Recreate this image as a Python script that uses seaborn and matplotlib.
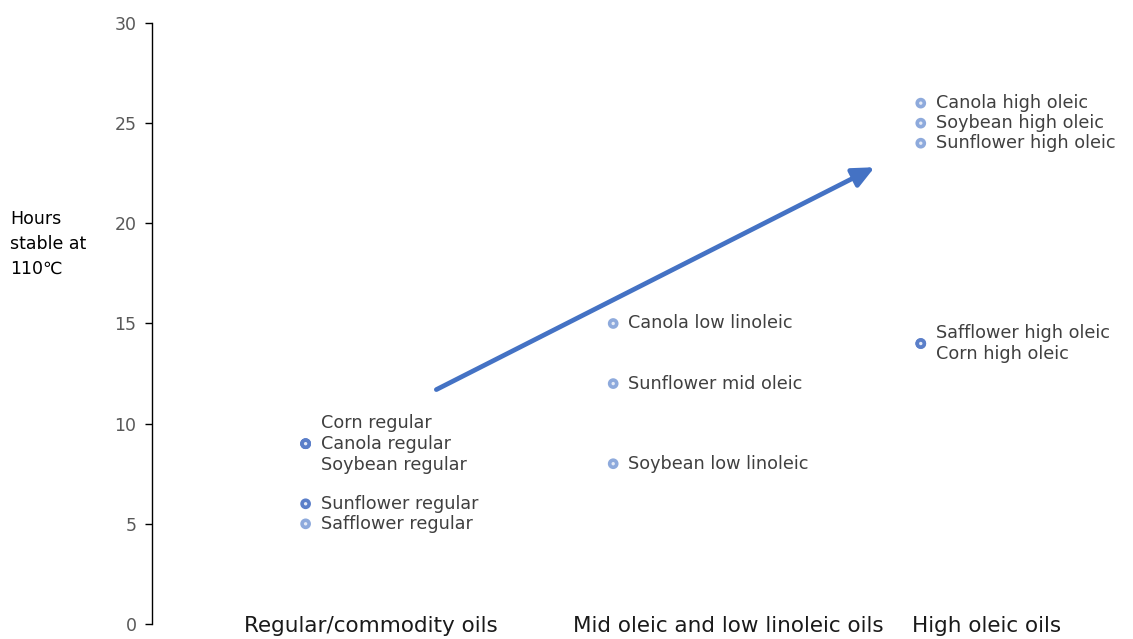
import pandas as pd
import seaborn as sns
import matplotlib.pyplot as plt

# data
groups = ["Regular/commodity oils", "Mid oleic and low linoleic oils", "High oleic oils"]
group_pos = [1, 2, 3]
group_label_x = [0.80, 1.87, 2.97]

oils = ["Corn regular", "Canola regular", "Soybean regular", "Sunflower regular", "Safflower regular",
        "Canola low linoleic", "Sunflower mid oleic", "Soybean low linoleic",
        "Canola high oleic", "Soybean high oleic", "Sunflower high oleic",
        "Safflower high oleic", "Corn high oleic"]
oil_group = [1, 1, 1, 1, 1, 2, 2, 2, 3, 3, 3, 3, 3]
hours = [9, 9, 9, 6, 5, 15, 12, 8, 26, 25, 24, 14, 14]

yticks = [0, 5, 10, 15, 20, 25, 30]
trend_start = (1.425, 11.7)
trend_end = (2.85, 22.8)

df = pd.DataFrame({"oil": oils, "group": oil_group, "hours": hours})
# points where several oils overlap look darker
counts = df.groupby(["group", "hours"])["oil"].transform("count")
sunfl = df["oil"] == "Sunflower regular"
df["shade"] = ["dark" if (c > 1 or s) else "light" for c, s in zip(counts, sunfl)]

sns.set_style("white")
plt.rcParams["font.family"] = ["DejaVu Sans"]

fig = plt.figure(figsize=(11.33, 6.39), dpi=100)
ax = fig.add_axes([0.134, 0.0235, 0.866, 0.9405])

sns.scatterplot(data=df, x="group", y="hours", hue="shade",
                palette={"dark": "#5b7fc9", "light": "#8eaadc"},
                s=26, linewidth=2.6, legend=False, ax=ax, zorder=3)
# inner light dot
for coll in ax.collections:
    coll.set_edgecolor(coll.get_facecolor())
    coll.set_facecolor("#e4eaf6")

# labels, stacked where points overlap
for (g, h), sub in df.groupby(["group", "hours"], sort=False):
    n = len(sub)
    for i, name in enumerate(sub["oil"]):
        yy = h + (n - 1) / 2 * 1.05 - i * 1.05
        ax.text(g + 0.049, yy, name, fontsize=12.7, color="#404040", va="center", ha="left")

ax.annotate("", xy=trend_end, xytext=trend_start,
            arrowprops=dict(arrowstyle="-|>,head_length=1.3,head_width=0.6",
                            color="#4472c4", lw=3.4, shrinkA=0, shrinkB=0))

for name, gx in zip(groups, group_label_x):
    ax.text(gx, -0.1, name, fontsize=15.5, color="#1a1a1a", va="center", ha="left")

ax.set_xlim(0.5, 3.69)
ax.set_ylim(0, 30)
ax.set_yticks(yticks)
ax.tick_params(axis="y", length=5, width=1, color="black", labelsize=12.5, labelcolor="#595959", pad=6, left=True)
ax.set_xticks([])
ax.set_xlabel("")
ax.set_ylabel("")
sns.despine(ax=ax, bottom=True)
ax.spines["left"].set_color("black")
ax.spines["left"].set_linewidth(1)

fig.text(10 / 1133, 1 - 244 / 639, "Hours\nstable at\n110\u2103", fontsize=12.5, color="black",
         ha="left", va="center", linespacing=1.5)

fig.savefig("out.png", dpi=100)
